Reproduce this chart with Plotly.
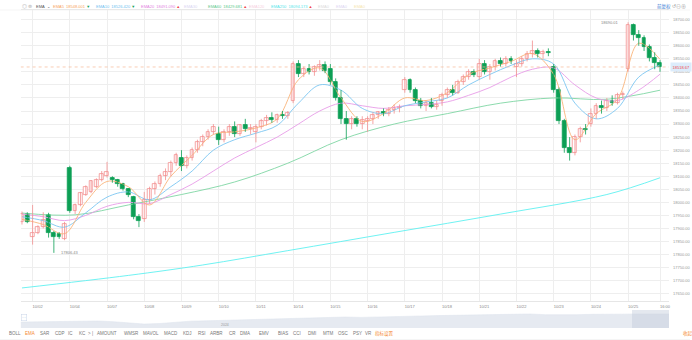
import plotly.graph_objects as go

# ---------------- data ----------------
opens = [17926,17957,17866,17884,17907,17953,17884,17880,17861,18133,
         17965,17991,18030,18040,18060,18085,18100,18095,18085,18070,
         18050,18020,17945,17935,18010,18050,18070,18100,18115,18150,
         18170,18140,18170,18200,18230,18250,18270,18260,18240,18270,
         18290,18260,18295,18280,18270,18290,18310,18325,18315,18335,
         18330,18390,18530,18490,18510,18500,18520,18525,18510,18460,
         18400,18320,18300,18320,18300,18310,18320,18335,18345,18340,
         18355,18360,18430,18470,18430,18390,18370,18380,18365,18390,
         18410,18430,18420,18460,18480,18500,18480,18530,18500,18520,
         18540,18530,18550,18520,18530,18550,18570,18580,18570,18575,
         18520,18430,18310,18210,18190,18250,18280,18300,18340,18370,
         18360,18390,18380,18410,18510,18680,18640,18630,18595,18555,
         18535]
highs = [17965,17962,17990,17912,17962,17960,17890,17886,17925,18140,
         17995,18040,18065,18085,18092,18120,18155,18100,18090,18075,
         18055,18025,17955,18040,18060,18080,18110,18130,18160,18190,
         18200,18180,18210,18240,18260,18280,18300,18290,18280,18300,
         18310,18300,18320,18300,18300,18320,18335,18345,18340,18350,
         18350,18540,18545,18520,18530,18525,18545,18540,18530,18475,
         18430,18350,18330,18330,18330,18330,18345,18350,18360,18365,
         18375,18375,18480,18475,18440,18400,18390,18400,18390,18420,
         18440,18450,18470,18490,18510,18510,18550,18545,18530,18550,
         18555,18560,18560,18545,18560,18580,18620,18590,18585,18590,
         18530,18440,18320,18250,18260,18290,18300,18360,18380,18390,
         18400,18410,18420,18425,18690.01,18685,18660,18640,18605,18575,
         18545]
lows = [17915,17920,17838,17878,17900,17865,17806.43,17860,17855,17960,
        17955,17985,18025,18035,18055,18080,18095,18075,18060,18045,
        18020,17935,17905,17925,17995,18030,18060,18085,18100,18140,
        18120,18130,18160,18190,18215,18240,18260,18220,18230,18255,
        18250,18255,18270,18260,18230,18280,18295,18305,18305,18320,
        18320,18380,18480,18480,18490,18485,18505,18495,18450,18390,
        18300,18240,18280,18290,18280,18270,18300,18320,18330,18330,
        18340,18345,18420,18420,18380,18360,18350,18360,18355,18370,
        18400,18410,18415,18450,18470,18480,18470,18490,18470,18505,
        18520,18520,18530,18480,18520,18540,18555,18555,18550,18560,
        18420,18300,18190,18160,18180,18230,18260,18290,18320,18340,
        18350,18370,18375,18395,18500,18620,18600,18580,18540,18510,
        18500]
closes = [17957,17926,17884,17907,17934,17884,17866,17866,17918,17965,
          17991,18037,18060,18080,18087,18110,18115,18085,18070,18050,
          18030,17945,17928,18010,18050,18070,18100,18115,18150,18180,
          18140,18170,18200,18230,18250,18270,18290,18240,18270,18290,
          18260,18295,18280,18285,18290,18310,18325,18315,18335,18330,
          18342,18530,18490,18510,18500,18520,18525,18505,18460,18400,
          18320,18300,18320,18300,18315,18320,18335,18345,18340,18355,
          18360,18367,18470,18430,18390,18370,18380,18365,18373,18410,
          18430,18420,18460,18480,18500,18489,18530,18500,18520,18540,
          18530,18550,18540,18530,18550,18570,18580,18570,18575,18573,
          18430,18310,18210,18190,18250,18280,18276,18340,18370,18360,
          18390,18380,18410,18415,18680,18640,18630,18595,18555,18535,
          18518.67]

ema_idx = [0,4,8,12,16,20,24,28,32,36,40,44,48,52,56,60,64,68,72,76,80,84,88,92,96,100,104,108,112,116,120]
ema5 = [17935,17915,17880,18000,18080,18060,17990,18100,18180,18260,18270,18285,18320,18470,18515,18400,
        18310,18340,18400,18390,18420,18490,18515,18540,18570,18490,18240,18340,18395,18610,18548.001]
ema10 = [17945,17930,17905,17960,18020,18040,18010,18060,18120,18200,18240,18265,18295,18380,18450,18430,
         18360,18340,18370,18385,18400,18450,18490,18525,18550,18530,18380,18320,18360,18480,18526.42]
ema20 = [17955,17945,17930,17950,17985,18000,17995,18030,18070,18120,18170,18210,18250,18300,18350,18380,
         18370,18360,18370,18375,18385,18410,18440,18480,18510,18515,18450,18400,18390,18430,18491.09]
ema60_idx = [0,10,20,30,40,50,60,70,80,90,100,110,120]
ema60 = [17959,17952,17990,18030,18078,18150,18240,18300,18340,18380,18400,18395,18429.681]
ema250_idx = [0,20,34,50,70,90,110,120]
ema250 = [17672,17720,17760,17815,17885,17955,18030,18094.173]

tick_idx = [2,9,16,23,30,37,44,51,58,65,72,79,86,93,100,107,114,120]
tick_text = ["10/02","10/04","10/07","10/08","10/09","10/10","10/11","10/14","10/15",
             "10/16","10/17","10/18","10/21","10/22","10/23","10/24","10/25","16:00"]
y_ticks = list(range(17650, 18701, 50))

last_price = 18518.67
hi_val, hi_idx = 18690.01, 114
lo_val, lo_idx = 17806.43, 6

nav_vals = [33,35,36,38,37,39,35,28,22,25,32,38,40,42,44,47,50,53,55,58,60,61,59,60,63,
            66,67,69,70,72,73,75,77,78,74,72,74,76,75,77,78,79,78]
nav_sel = (39.6, 42)

legend_items = [("EMA5", "18548.001", "▼", "#f7a55e", "#1aa45a"),
                ("EMA10", "18526.420", "▼", "#6fbff0", "#1aa45a"),
                ("EMA20", "18491.090", "▲", "#e27fe0", "#f04848"),
                ("EMA30", "", "", "#d9d6f2", ""),
                ("EMA60", "18429.681", "▲", "#5cc98c", "#f04848"),
                ("EMA120", "", "", "#f6cfe0", ""),
                ("EMA250", "18094.173", "▲", "#52e6ea", "#f04848"),
                ("EMA0", "", "", "#dcdcdc", ""),
                ("EMA0", "", "", "#dcd6f2", ""),
                ("EMA0", "", "", "#f6e6b0", "")]
legend_x = [51, 94, 139, 183, 207, 248, 270, 317, 335, 353]

tabs = ["BOLL","EMA","SAR","CDP","IC","KC",">","|","AMOUNT","WMSR","MAVOL","MACD","KDJ","RSI",
        "ARBR","CR","DMA","EMV","BIAS","CCI","DMI","MTM","OSC","PSY","VR","指标设置"]
tab_x = [7,23,38,53,66,77,86,90,95,122,141,162,182,197,209,228,239,258,277,292,307,322,337,352,364,374]

# ---------------- figure ----------------
W, H = 692, 340
N = len(closes)
idx = list(range(N))
UP_C, DN_C = "#f38e8e", "#0d9f55"

fig = go.Figure()

for xs, ys, col in [(ema250_idx, ema250, "#5ff0f0"), (ema60_idx, ema60, "#7fd6a4"),
                    (ema_idx, ema20, "#e89ce8"), (ema_idx, ema10, "#7cc6f2"),
                    (ema_idx, ema5, "#f9b47a")]:
    fig.add_trace(go.Scatter(x=xs, y=ys, mode="lines", line=dict(color=col, width=0.9, shape="spline"),
                             showlegend=False, hoverinfo="skip"))

for up in (True, False):
    wx, wy = [], []
    for i in idx:
        if (closes[i] >= opens[i]) == up:
            wx += [i, i, None]
            wy += [lows[i], highs[i], None]
    fig.add_trace(go.Scatter(x=wx, y=wy, mode="lines",
                             line=dict(color=UP_C if up else DN_C, width=0.8),
                             showlegend=False, hoverinfo="skip"))

for up in (True, False):
    bx, by, bb = [], [], []
    for i in idx:
        if (closes[i] >= opens[i]) == up:
            bx.append(i)
            by.append(max(abs(closes[i] - opens[i]), 1.5))
            bb.append(min(opens[i], closes[i]))
    fig.add_trace(go.Bar(x=bx, y=by, base=bb, width=0.72,
                         marker=dict(color="#ffffff" if up else DN_C,
                                     line=dict(color=UP_C if up else DN_C, width=0.8)),
                         showlegend=False, hoverinfo="skip"))

fig.add_trace(go.Scatter(x=list(range(len(nav_vals))), y=nav_vals, mode="lines", fill="tozeroy",
                         fillcolor="#e6eaf1", line=dict(color="#dde3ec", width=0.5),
                         xaxis="x2", yaxis="y2", showlegend=False, hoverinfo="skip"))

def px(xp):
    return xp / W

def py(yp):
    return 1 - yp / H

fig.update_layout(
    width=W, height=H, margin=dict(l=0, r=0, t=0, b=0), barmode="overlay", bargap=0,
    paper_bgcolor="white", plot_bgcolor="white",
    font=dict(family="Liberation Sans, Noto Sans CJK SC", size=4, color="#999"),
    xaxis=dict(domain=[px(20.7), px(671)], range=[-0.25, 121.7], tickmode="array",
               tickvals=tick_idx, ticktext=tick_text, showgrid=True, gridcolor="#eeeeee",
               gridwidth=0.6, zeroline=False,
               tickfont=dict(size=4, color="#888"), ticks="", ticklabelshift=5,
               ticklabelstandoff=1, showline=True, linecolor="#e6e6e6", linewidth=0.6, mirror=True),
    yaxis=dict(domain=[py(301), py(10)], range=[17622, 18737], side="right",
               tickmode="array", tickvals=y_ticks, ticktext=[f"{v:.2f}" for v in y_ticks],
               showgrid=True, gridcolor="#eeeeee", gridwidth=0.6, zeroline=False,
               tickfont=dict(size=4, color="#999"), ticks="", ticklabelstandoff=3),
    xaxis2=dict(domain=[px(20.7), px(671)], range=[0, len(nav_vals) - 1], anchor="y2",
                showgrid=False, showticklabels=False, zeroline=False),
    yaxis2=dict(domain=[py(328), py(310)], range=[0, 100], anchor="x2",
                showgrid=False, showticklabels=False, zeroline=False),
)

shapes = []
shapes.append(dict(type="line", xref="x", yref="y", x0=-0.25, x1=121.7, y0=last_price, y1=last_price,
                   line=dict(color="#f6b896", width=0.7, dash="dot")))
shapes.append(dict(type="rect", xref="x2", yref="y2", x0=nav_sel[0], x1=nav_sel[1], y0=0, y1=100,
                   fillcolor="rgba(196,205,220,0.45)", line=dict(width=0)))
shapes.append(dict(type="line", xref="paper", yref="paper", x0=0, x1=1, y0=py(10), y1=py(10),
                   line=dict(color="#eeeeee", width=0.6)))
shapes.append(dict(type="line", xref="paper", yref="paper", x0=0, x1=1, y0=py(339.5), y1=py(339.5),
                   line=dict(color="#eeeeee", width=0.6)))
fig.update_layout(shapes=shapes)

ann = []
ann.append(dict(x=px(672), y=last_price, xref="paper", yref="y", text=f"{last_price:.2f}",
                showarrow=False, xanchor="left", yanchor="middle", font=dict(size=4, color="#f04848"),
                bgcolor="#dcecfb", borderpad=1.5))
ann.append(dict(x=hi_idx - 1.6, y=hi_val, xref="x", yref="y", text=f"{hi_val:.2f}", showarrow=False,
                xanchor="right", yanchor="middle", font=dict(size=4, color="#888")))
ann.append(dict(x=lo_idx + 1.0, y=lo_val, xref="x", yref="y", text=f"{lo_val:.2f}", showarrow=False,
                xanchor="left", yanchor="middle", font=dict(size=4, color="#888")))

ann.append(dict(x=px(20.5), y=py(6), xref="paper", yref="paper", text="◎ ⊜", showarrow=False,
                xanchor="left", yanchor="middle", font=dict(size=5, color="#aaa")))
ann.append(dict(x=px(34), y=py(6), xref="paper", yref="paper", text="EMA  ⌄", showarrow=False,
                xanchor="left", yanchor="middle", font=dict(size=4, color="#555")))
for (name, val, arr, col, acol), xl in zip(legend_items, legend_x):
    txt = f"{name}"
    if val:
        txt += f"  {val} <span style='color:{acol}'>{arr}</span>"
    ann.append(dict(x=px(xl), y=py(6), xref="paper", yref="paper", text=txt, showarrow=False,
                    xanchor="left", yanchor="middle", font=dict(size=4, color=col)))
ann.append(dict(x=px(657), y=py(6), xref="paper", yref="paper", text="前复权", showarrow=False,
                xanchor="left", yanchor="middle", font=dict(size=4.5, color="#3a7bd5")))
ann.append(dict(x=px(672), y=py(6), xref="paper", yref="paper", text="↺⊖⊕", showarrow=False,
                xanchor="left", yanchor="middle", font=dict(size=5, color="#999")))

ann.append(dict(x=px(21), y=py(317.5), xref="paper", yref="paper", text="···", showarrow=False,
                xanchor="left", yanchor="middle", font=dict(size=4, color="#6a8fc8"),
                bordercolor="#c8d4e8", borderwidth=0.5, borderpad=0.5))
ann.append(dict(x=px(226), y=py(324.5), xref="paper", yref="paper", text="2024", showarrow=False,
                xanchor="center", yanchor="middle", font=dict(size=3.5, color="#999")))

for t, xt in zip(tabs, tab_x):
    col = "#f58a32" if t in ("EMA", "指标设置") else "#777"
    ann.append(dict(x=px(xt), y=py(333), xref="paper", yref="paper", text=t, showarrow=False,
                    xanchor="left", yanchor="middle", font=dict(size=4.5, color=col)))
ann.append(dict(x=px(683), y=py(333), xref="paper", yref="paper", text="收起", showarrow=False,
                xanchor="left", yanchor="middle", font=dict(size=4.5, color="#f58a32")))

fig.update_layout(annotations=ann)
fig.write_html("out.html")
